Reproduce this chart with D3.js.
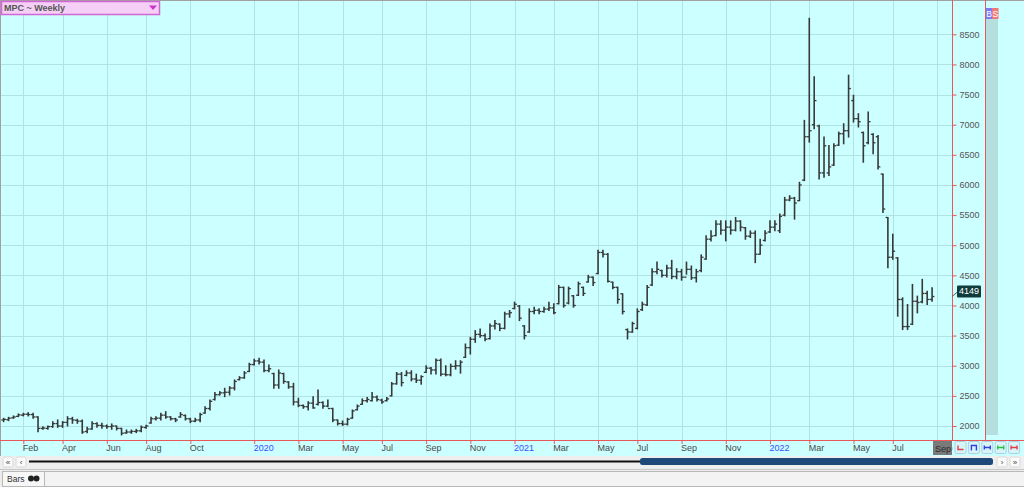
<!DOCTYPE html>
<html><head><meta charset="utf-8">
<script src="https://cdn.jsdelivr.net/npm/d3@7"></script>
<style>html,body{margin:0;padding:0;background:#fff;overflow:hidden}svg{display:block}text{font-family:"Liberation Sans",Arial,sans-serif}</style>
</head><body>
<svg id="c" width="1024" height="487"></svg>
<script>
// ---------------- data ----------------
const seriesName = "MPC ~ Weekly";
const firstWeek = "2019-01-10";   // first weekly bar (Thursday)
const lastWeek  = "2022-08-25";   // last weekly bar
const open = [
2100,2105,2135,2160,2180,2195,2190,2150,1960,1960,
1990,2040,2000,2060,2120,2095,2080,1910,1950,2040,
2010,2000,1990,2000,1960,1885,1900,1910,1920,1975,
2050,2120,2130,2180,2150,2120,2150,2175,2120,2080,
2100,2215,2290,2440,2520,2550,2560,2630,2770,2800,
2905,3020,3080,3060,2920,2870,2680,2870,2730,2650,
2400,2340,2320,2380,2360,2390,2330,2290,2100,2040,
2030,2130,2270,2360,2420,2420,2480,2430,2420,2500,
2700,2860,2840,2880,2780,2760,2890,2960,2930,3090,
2860,2850,2990,3000,3140,3300,3440,3520,3500,3450,
3660,3690,3620,3860,3950,3990,3660,3560,3900,3920,
3900,3940,3960,4030,4300,4040,4160,4170,4300,4390,
4470,4530,4880,4850,4388,4300,4194,3600,3560,3620,
3930,4010,4340,4560,4580,4500,4620,4480,4560,4470,
4600,4460,4580,4770,5100,5160,5350,5250,5300,5250,
5400,5290,5150,5200,4850,5080,5220,5300,5240,5500,
5750,5780,5740,6080,6800,7000,6980,6200,6200,6330,
6660,6850,6900,7400,7100,6870,6700,6840,6800,6180,
5460,4800,4790,4100,3650,3690,4070,4060,4200,4100];
const high = [
2128,2144,2167,2200,2211,2222,2211,2155,1989,2000,
2072,2100,2072,2155,2144,2111,2100,1978,2072,2056,
2045,2017,2034,2000,1962,1934,1934,1945,2000,2011,
2144,2155,2211,2238,2155,2128,2222,2183,2128,2128,
2211,2321,2432,2554,2570,2626,2653,2764,2819,2902,
3041,3107,3124,3096,3013,2875,2930,2875,2736,2709,
2460,2349,2404,2487,2598,2404,2432,2294,2100,2083,
2128,2266,2349,2450,2472,2555,2499,2444,2472,2722,
2888,2888,2916,2916,2861,2833,3000,2972,3111,3111,
3000,3027,3083,3083,3361,3472,3583,3611,3527,3694,
3749,3694,3888,3916,4055,4000,3666,3944,3972,3944,
3972,4055,4027,4333,4305,4305,4166,4388,4305,4500,
4472,4916,4916,4861,4388,4305,4194,3611,3722,3944,
4055,4333,4611,4722,4583,4666,4749,4611,4600,4720,
4655,4600,4840,5155,5238,5405,5405,5405,5405,5461,
5405,5294,5238,5238,5099,5238,5405,5405,5516,5794,
5822,5794,6044,7072,8766,7794,6989,6794,6655,6683,
6877,7016,7822,7489,7183,6877,7211,6850,6822,6183,
5461,5183,4794,4127,4016,4350,4155,4433,4238,4294];
const low = [
2072,2089,2128,2155,2167,2167,2128,1906,1945,1945,
1978,1978,1978,2000,2045,2045,1879,1890,1945,1978,
1962,1962,1945,1934,1851,1879,1879,1890,1906,1962,
2045,2100,2100,2128,2100,2072,2144,2100,2056,2072,
2072,2211,2266,2432,2515,2487,2515,2598,2764,2792,
2902,3013,3030,2902,2902,2626,2626,2709,2626,2349,
2321,2294,2266,2294,2349,2294,2321,2072,2017,2010,
2017,2128,2266,2360,2400,2416,2416,2377,2416,2499,
2694,2666,2833,2749,2722,2694,2888,2861,2861,2833,
2833,2833,2944,2877,3138,3194,3388,3472,3416,3444,
3611,3583,3611,3805,3944,3749,3444,3555,3861,3861,
3888,3916,3861,4027,3972,4027,3972,4166,4166,4388,
4333,4527,4805,4388,4277,4037,3860,3444,3555,3611,
3916,4000,4333,4527,4472,4472,4444,4444,4420,4520,
4433,4390,4560,4766,5072,5155,5183,5072,5183,5238,
5238,5099,5127,4711,4849,5072,5211,5238,5211,5488,
5738,5433,5738,6072,6711,6933,6100,6127,6155,6322,
6655,6683,6794,7044,6961,6377,6683,6516,6266,5544,
4627,4766,3822,3600,3600,3683,3877,4044,4016,4072];
const close = [
2110,2130,2150,2185,2195,2190,2150,1960,1965,1990,
2040,2000,2060,2120,2100,2080,1900,1950,2040,2010,
2000,1990,2000,1960,1880,1900,1910,1920,1980,2000,
2120,2130,2180,2150,2120,2100,2190,2120,2080,2100,
2190,2290,2410,2520,2550,2560,2630,2740,2800,2880,
3020,3080,3060,2920,2950,2680,2880,2740,2650,2400,
2340,2320,2380,2300,2390,2330,2290,2100,2040,2030,
2110,2250,2330,2420,2440,2480,2440,2400,2450,2700,
2860,2720,2880,2780,2760,2820,2960,2930,3090,2860,
2850,2990,3000,3060,3300,3440,3520,3500,3440,3660,
3700,3620,3860,3880,4020,3790,3500,3900,3920,3900,
3940,3960,3880,4300,4000,4280,4000,4360,4200,4470,
4380,4880,4850,4400,4300,4100,3900,3560,3700,3900,
4020,4300,4560,4600,4500,4620,4480,4560,4470,4600,
4460,4560,4800,5100,5150,5350,5250,5300,5250,5400,
5300,5150,5200,4850,5000,5200,5300,5350,5480,5750,
5780,5700,6000,6800,6900,7400,6200,6650,6300,6650,
6850,6900,7600,7100,7050,6650,7050,6700,6300,5600,
4800,4900,4100,3650,3650,4070,4050,4200,4100,4149];
const priceTicks = [2000,2500,3000,3500,4000,4500,5000,5500,6000,6500,7000,7500,8000,8500];
const monthTickDates = ["2019-02-07","2019-04-04","2019-06-06","2019-08-01","2019-10-03",
  "2020-01-02","2020-03-05","2020-05-07","2020-07-02","2020-09-03","2020-11-05",
  "2021-01-07","2021-03-04","2021-05-06","2021-07-01","2021-09-02","2021-11-04",
  "2022-01-06","2022-03-03","2022-05-05","2022-06-30","2022-09-01"];
const monthTickLabels = ["Feb","Apr","Jun","Aug","Oct","2020","Mar","May","Jul","Sep","Nov",
  "2021","Mar","May","Jul","Sep","Nov","2022","Mar","May","Jul","Sep"];
const lastPriceLabel = "4149";

// ---------------- chart ----------------
const parse = d3.utcParse("%Y-%m-%d");
const weeks = d3.utcThursday.range(parse(firstWeek), d3.utcDay.offset(parse(lastWeek), 1));
const bars = weeks.map((d, i) => ({d, o: open[i], h: high[i], l: low[i], c: close[i]}));
const tickDates = monthTickDates.map(parse);

const svg = d3.select("#c");
const plotR = 952, axisY = 440;
const x = d3.scaleUtc().domain([parse("2019-02-07"), parse("2022-09-01")]).range([23.3, 937]);
const y = d3.scaleLinear().domain([2000, 8500]).range([426, 34.3]);

const cyan = "#ccffff", red = "#e8585a", grid = "#b0e4e4";

svg.append("rect").attr("x",0).attr("y",0).attr("width",1024).attr("height",456).attr("fill",cyan);

// grid
svg.append("g").selectAll("line").data(tickDates).join("line")
  .attr("x1", d => Math.round(x(d)) + 0.5).attr("x2", d => Math.round(x(d)) + 0.5)
  .attr("y1", 0).attr("y2", axisY).attr("stroke", grid).attr("stroke-width", 1);
svg.append("g").selectAll("line").data(priceTicks).join("line")
  .attr("x1", 0).attr("x2", plotR).attr("y1", d => Math.round(y(d)) + 0.5).attr("y2", d => Math.round(y(d)) + 0.5)
  .attr("stroke", grid).attr("stroke-width", 1);

// borders
svg.append("line").attr("x1",0).attr("x2",1024).attr("y1",0.5).attr("y2",0.5).attr("stroke","#a0a0a0");
svg.append("line").attr("x1",0.5).attr("x2",0.5).attr("y1",0).attr("y2",456).attr("stroke","#a0a0a0");

// right side column + B/S
svg.append("rect").attr("x",986).attr("y",19).attr("width",12).attr("height",416).attr("fill","#b5dfdf");
svg.append("rect").attr("x",986).attr("y",8).attr("width",6).attr("height",11).attr("fill","#7b7bf5");
svg.append("rect").attr("x",992).attr("y",8).attr("width",6.5).attr("height",11).attr("fill","#f07878");
svg.append("text").attr("x",989).attr("y",17).attr("text-anchor","middle").attr("font-size",8.5).attr("fill","#fff").text("B");
svg.append("text").attr("x",995.3).attr("y",17).attr("text-anchor","middle").attr("font-size",8.5).attr("fill","#fff").text("S");

// OHLC bars
const g = svg.append("g").attr("stroke", "#383838").attr("stroke-width", 1.6).attr("fill", "none");
const sel = g.selectAll("g").data(bars).join("g");
sel.append("line").attr("x1", d => x(d.d)).attr("x2", d => x(d.d))
  .attr("y1", d => y(d.h) - 0.5).attr("y2", d => y(d.l) + 0.5);
sel.append("line").attr("x1", d => x(d.d) - 2.3).attr("x2", d => x(d.d))
  .attr("y1", d => y(d.o)).attr("y2", d => y(d.o)).attr("stroke-width", 1.3);
sel.append("line").attr("x1", d => x(d.d)).attr("x2", d => x(d.d) + 2.3)
  .attr("y1", d => y(d.c)).attr("y2", d => y(d.c)).attr("stroke-width", 1.3);

// red frame lines
svg.append("line").attr("x1",plotR+0.5).attr("x2",plotR+0.5).attr("y1",0).attr("y2",axisY).attr("stroke",red);
svg.append("line").attr("x1",985.5).attr("x2",985.5).attr("y1",0).attr("y2",axisY).attr("stroke",red);

// price axis
const ya = d3.axisRight(y).tickValues(priceTicks).tickSize(4).tickPadding(3).tickFormat(d3.format("d"));
const yg = svg.append("g").attr("transform", `translate(${plotR+0.5},0)`).call(ya);
yg.select(".domain").remove();
yg.selectAll(".tick line").attr("stroke", red);
yg.selectAll(".tick text").attr("font-size", 9).attr("fill", "#555").attr("font-family", "Liberation Sans, Arial");

// time axis
const xa = d3.axisBottom(x).tickValues(tickDates).tickSize(4).tickFormat((d, i) => monthTickLabels[i]);
const xg = svg.append("g").attr("transform", `translate(0,${axisY})`).call(xa);
xg.select(".domain").attr("stroke", red).attr("d", "M0,0.5H1024");
xg.selectAll(".tick line").attr("stroke", red);
xg.selectAll(".tick text").attr("font-size", 9).attr("text-anchor", "start").attr("x", -1).attr("y", 5)
  .attr("font-family", "Liberation Sans, Arial")
  .attr("fill", (d, i) => /^\d{4}$/.test(monthTickLabels[i]) ? "#3a4dff" : "#4a4a4a");

// current period box "Sep"
const lastTick = tickDates[tickDates.length - 1];
svg.append("rect").attr("x", x(lastTick) - 4).attr("y", axisY + 1).attr("width", plotR - x(lastTick) + 4).attr("height", 14).attr("fill", "#7a7a7a");
svg.append("text").attr("x", x(lastTick) - 2).attr("y", axisY + 11.5).attr("font-size", 9).attr("fill", "#2a2a2a").text(monthTickLabels[monthTickLabels.length - 1]);

// last price label
const lastC = close[close.length - 1];
const ly = y(lastC);
svg.append("line").attr("x1", plotR).attr("y1", ly).attr("x2", plotR + 6).attr("y2", ly - 5).attr("stroke", "#4a6a6a");
svg.append("rect").attr("x", plotR + 5).attr("y", ly - 11).attr("width", 24).attr("height", 12).attr("rx", 1).attr("fill", "#0f3b3b");
svg.append("text").attr("x", plotR + 7).attr("y", ly - 2).attr("font-size", 9).attr("fill", "#fff").text(lastPriceLabel);

// legend box
svg.append("rect").attr("x", 1.5).attr("y", 1.5).attr("width", 158).attr("height", 13).attr("fill", "#f6cff6").attr("stroke", "#d266d2").attr("stroke-width", 1.5);
svg.append("text").attr("x", 4).attr("y", 11).attr("font-size", 9).attr("font-weight", "bold").attr("fill", "#555").text(seriesName);
svg.append("path").attr("d", "M149,5.5 L157,5.5 L153,10 Z").attr("fill", "#cc33cc");

// bottom-right tool buttons
const btnCols = ["#e04040", "#3040e0", "#3040e0", "#30c040", "#e04040"];
btnCols.forEach((c, i) => {
  const bx = 955 + i * 13.4, by = 441.5;
  svg.append("rect").attr("x", bx).attr("y", by).attr("width", 11).attr("height", 12).attr("rx", 1.5)
    .attr("fill", "#d9f3fb").attr("stroke", "#a8d4e0");
  let d;
  if (i === 0) d = `M${bx+3},${by+4} V${by+8} H${bx+8.5}`;
  else if (i === 1) d = `M${bx+3},${by+9} V${by+4} H${bx+8} V${by+9}`;
  else d = `M${bx+2.5},${by+4} V${by+8} M${bx+2.5},${by+6} H${bx+8.5} M${bx+8.5},${by+4} V${by+8}`;
  svg.append("path").attr("d", d).attr("fill", "none").attr("stroke", c).attr("stroke-width", 1.4);
});

// scroll row
svg.append("rect").attr("x", 0).attr("y", 456).attr("width", 1024).attr("height", 12).attr("fill", "#efefef");
[[3, "«"], [16, "‹"], [997, "›"], [1010, "»"]].forEach(([bx, t]) => {
  svg.append("rect").attr("x", bx).attr("y", 457).attr("width", 10).attr("height", 10).attr("rx", 1.5).attr("fill", "#fafafa").attr("stroke", "#d8d8d8");
  svg.append("text").attr("x", bx + 5).attr("y", 465).attr("text-anchor", "middle").attr("font-size", 8).attr("fill", "#444").text(t);
});
svg.append("line").attr("x1", 29).attr("x2", 642).attr("y1", 461.5).attr("y2", 461.5).attr("stroke", "#111").attr("stroke-width", 2.2);
svg.append("rect").attr("x", 640).attr("y", 458).attr("width", 353).attr("height", 7).attr("rx", 2.5).attr("fill", "#1d4a79");

// bottom status row
svg.append("rect").attr("x", 0).attr("y", 468).attr("width", 1024).attr("height", 19).attr("fill", "#ececec");
svg.append("line").attr("x1", 0).attr("x2", 1024).attr("y1", 469.5).attr("y2", 469.5).attr("stroke", "#c8c8c8");
svg.append("rect").attr("x", 44.5).attr("y", 471.5).attr("width", 980).attr("height", 15).attr("fill", "#f3f3f3").attr("stroke", "#b8b8b8");
svg.append("rect").attr("x", 2.5).attr("y", 471.5).attr("width", 42).attr("height", 15).attr("fill", "#f7f7f7").attr("stroke", "#b8b8b8");
svg.append("text").attr("x", 7).attr("y", 482).attr("font-size", 8.5).attr("fill", "#333").text("Bars");
svg.append("circle").attr("cx", 31).attr("cy", 478.5).attr("r", 3).attr("fill", "#222");
svg.append("circle").attr("cx", 36.5).attr("cy", 478.5).attr("r", 3).attr("fill", "#222");
</script>
</body></html>
